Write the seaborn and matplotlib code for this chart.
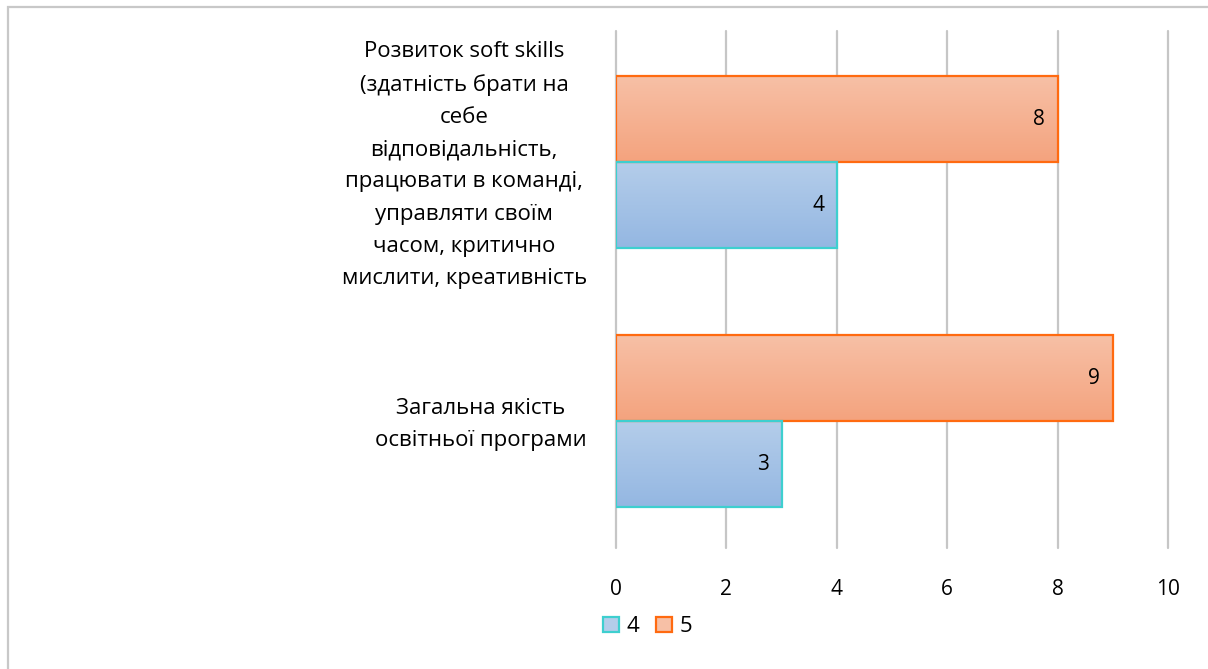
import numpy as np
import pandas as pd
import seaborn as sns
import matplotlib.pyplot as plt
from matplotlib.patches import Patch, Rectangle
from matplotlib.colors import to_rgb
from matplotlib.transforms import ScaledTranslation

categories = [
    "Розвиток soft skills\n(здатність брати на\nсебе\nвідповідальність,\nпрацювати в команді,\nуправляти своїм\nчасом, критично\nмислити, креативність",
    "Загальна якість\nосвітньої програми",
]
series_names = ["4", "5"]
values_4 = [4, 3]
values_5 = [8, 9]
x_ticks = [0, 2, 4, 6, 8, 10]

# кольори: (верх градієнта, низ градієнта, рамка)
colors = {
    "4": ("#b4cdea", "#94b7e2", "#3ecfcf"),
    "5": ("#f7c0a6", "#f4a37e", "#ff6a10"),
}


def build_frame():
    rows = []
    for cat, v4, v5 in zip(categories, values_4, values_5):
        rows.append({"category": cat, "series": "4", "value": v4})
        rows.append({"category": cat, "series": "5", "value": v5})
    return pd.DataFrame(rows)


def gradient_fill(ax, patch, top, bottom):
    x0, y0 = patch.get_x(), patch.get_y()
    w, h = patch.get_width(), patch.get_height()
    t = np.linspace(0, 1, 64)[:, None, None]
    img = (1 - t) * np.array(to_rgb(top)) + t * np.array(to_rgb(bottom))
    im = ax.imshow(img, extent=(x0, x0 + w, y0 + h, y0), aspect="auto",
                   origin="upper", zorder=patch.get_zorder() - 0.1,
                   interpolation="bilinear")
    im.set_clip_path(patch)


def main():
    data = build_frame()

    sns.set_style("white")
    plt.rcParams["font.family"] = ["Open Sans", "DejaVu Sans"]
    plt.rcParams["text.color"] = "black"
    plt.rcParams["xtick.color"] = "black"
    plt.rcParams["ytick.color"] = "black"

    fig = plt.figure(figsize=(12.08, 6.69), dpi=100)
    ax = fig.add_axes([0.5099, 0.1809, 0.4570, 0.7728])

    sns.barplot(data=data, y="category", x="value", hue="series",
                hue_order=["5", "4"], order=categories, orient="h",
                width=0.664, legend=False, ax=ax, saturation=1)

    for container, name in zip(ax.containers, ["5", "4"]):
        top, bottom, edge = colors[name]
        for patch in container:
            patch.set_facecolor("none")
            patch.set_edgecolor(edge)
            patch.set_linewidth(1.6)
            patch.set_zorder(3)
            gradient_fill(ax, patch, top, bottom)
            ax.annotate(f"{patch.get_width():g}",
                        (patch.get_x() + patch.get_width(),
                         patch.get_y() + patch.get_height() / 2),
                        xytext=(-9, 0), textcoords="offset points",
                        ha="right", va="center", fontsize=15, zorder=5)

    ax.set_xlim(0, 10)
    ax.set_ylim(1.49, -0.506)
    ax.set_xticks(x_ticks)
    ax.set_xticklabels([str(t) for t in x_ticks], fontsize=15)
    ax.set_xlabel("")
    ax.set_ylabel("")
    ax.tick_params(axis="y", length=0, pad=21)
    ax.tick_params(axis="x", length=0, pad=22)
    # підняти підписи категорій на кілька пікселів
    shift = ScaledTranslation(0, 5 / 100, fig.dpi_scale_trans)
    for lbl in ax.get_yticklabels():
        lbl.set_multialignment("center")
        lbl.set_fontsize(16)
        lbl.set_linespacing(1.7)
        lbl.set_transform(lbl.get_transform() + shift)

    ax.xaxis.grid(True, color="#c6c6c6", linewidth=1.6)
    for gl in ax.get_xgridlines():
        gl.set_clip_on(False)
    ax.yaxis.grid(False)
    ax.set_axisbelow(True)
    for side in ax.spines.values():
        side.set_visible(False)

    handles = [Patch(facecolor=colors[n][0], edgecolor=colors[n][2],
                     linewidth=1.6, label=n) for n in series_names]
    fig.legend(handles=handles, loc="center left",
               bbox_to_anchor=(0.483, 0.063), ncol=2, frameon=False,
               fontsize=16, handlelength=0.7, handleheight=0.7,
               handletextpad=0.35, columnspacing=0.75)

    fig.patches.append(Rectangle((8 / 1208, -0.1), 1.2, 0.9895 + 0.1,
                                 transform=fig.transFigure, fill=False,
                                 edgecolor="#c8c8c8", linewidth=1.6))

    fig.savefig("out.png", dpi=100)


if __name__ == "__main__":
    main()
